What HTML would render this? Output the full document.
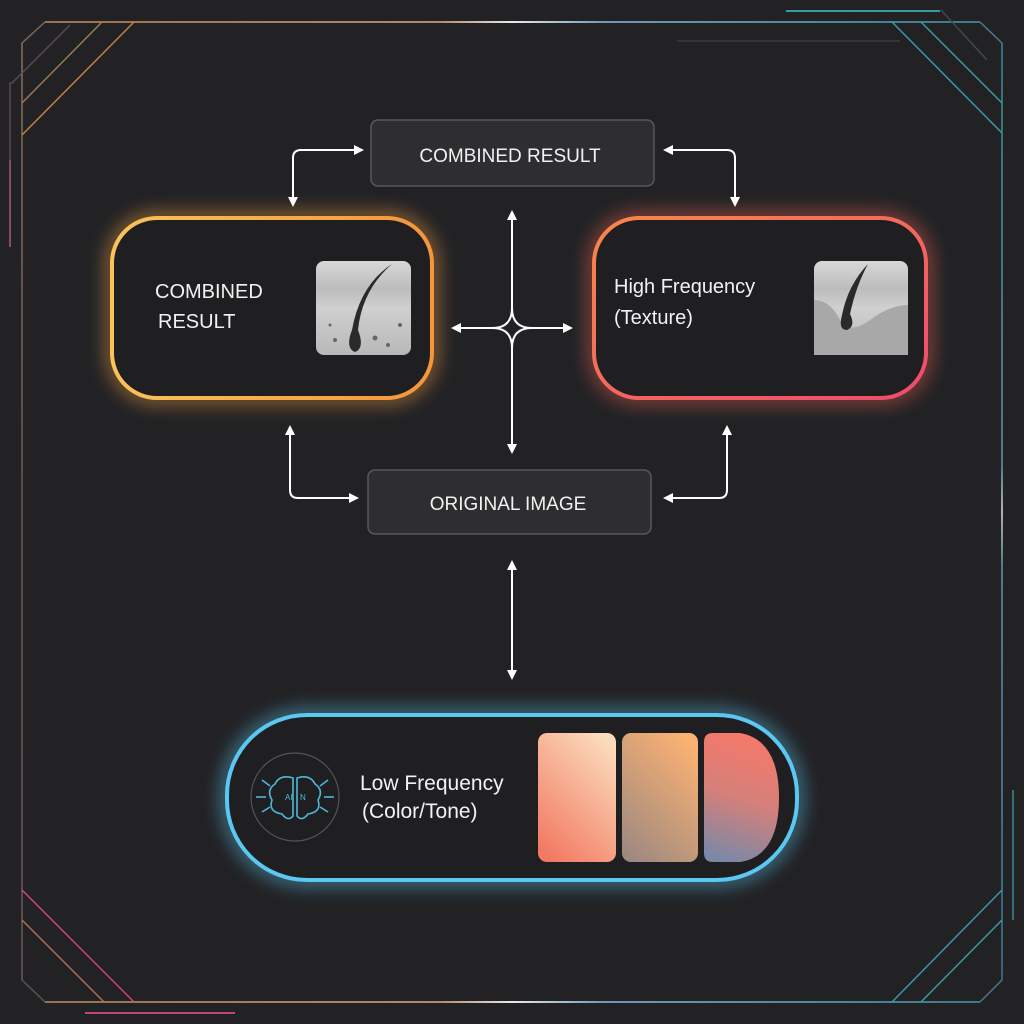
<!DOCTYPE html>
<html><head><meta charset="utf-8"><style>
html,body{margin:0;padding:0;background:#222225;}
svg{display:block}
text{font-family:"Liberation Sans",sans-serif;fill:#f2f2f2}
</style></head><body>
<svg width="1024" height="1024" viewBox="0 0 1024 1024" xmlns="http://www.w3.org/2000/svg">
<defs>
<linearGradient id="tl" gradientUnits="userSpaceOnUse" x1="45" y1="0" x2="980" y2="0"><stop offset="0" stop-color="#9a7050"/><stop offset="0.42" stop-color="#b08a6a"/><stop offset="0.5" stop-color="#e8e8e8"/><stop offset="0.6" stop-color="#6a9ab8"/><stop offset="1" stop-color="#3a7a8a"/></linearGradient>
<linearGradient id="lv" gradientUnits="userSpaceOnUse" x1="0" y1="43" x2="0" y2="980"><stop offset="0" stop-color="#8a7058"/><stop offset="0.5" stop-color="#6a5a55"/><stop offset="1" stop-color="#6a5a60"/></linearGradient>
<linearGradient id="rv" gradientUnits="userSpaceOnUse" x1="0" y1="43" x2="0" y2="980"><stop offset="0" stop-color="#3a8a98"/><stop offset="0.45" stop-color="#5a9aa8"/><stop offset="0.5" stop-color="#e0e0e0"/><stop offset="0.56" stop-color="#5a9aa8"/><stop offset="1" stop-color="#3a7a98"/></linearGradient>
<linearGradient id="og" x1="0" x2="1"><stop offset="0" stop-color="#f9c35a"/><stop offset="1" stop-color="#f4963a"/></linearGradient>
<linearGradient id="rg" x1="0" x2="1" y1="0" y2="1"><stop offset="0" stop-color="#f8874a"/><stop offset="1" stop-color="#ee4a70"/></linearGradient>
<linearGradient id="s1" x1="0.8" y1="0" x2="0.2" y2="1"><stop offset="0" stop-color="#fcdcbc"/><stop offset="1" stop-color="#f27a62"/></linearGradient>
<linearGradient id="s2" x1="0.8" y1="0" x2="0.2" y2="1"><stop offset="0" stop-color="#fcb272"/><stop offset="1" stop-color="#a08a80"/></linearGradient>
<linearGradient id="s3" x1="0.5" y1="0" x2="0.3" y2="1"><stop offset="0" stop-color="#f6786a"/><stop offset="0.5" stop-color="#d4807a"/><stop offset="1" stop-color="#7a88a8"/></linearGradient>
<linearGradient id="img" x1="0" y1="0" x2="0" y2="1"><stop offset="0" stop-color="#d8d8d8"/><stop offset="0.3" stop-color="#bcbcbc"/><stop offset="0.5" stop-color="#d0d0d0"/><stop offset="1" stop-color="#b8b8b8"/></linearGradient>
<filter id="glow" x="-20%" y="-30%" width="140%" height="160%"><feGaussianBlur stdDeviation="9"/></filter>
<marker id="ah" viewBox="0 0 10 10" refX="8" refY="5" markerWidth="5" markerHeight="5" orient="auto-start-reverse"><path d="M0,0 L10,5 L0,10z" fill="#fff"/></marker>
</defs>
<rect width="1024" height="1024" fill="#222225"/>
<g fill="none" stroke-width="1.5">
<line x1="45" y1="22" x2="980" y2="22" stroke="url(#tl)" stroke-width="2"/>
<line x1="45" y1="1002" x2="980" y2="1002" stroke="url(#tl)" stroke-width="2"/>
<line x1="22" y1="43" x2="22" y2="980" stroke="url(#lv)"/>
<line x1="1002" y1="43" x2="1002" y2="980" stroke="url(#rv)"/>
<line x1="45" y1="22" x2="22" y2="43" stroke="#7a6a58"/>
<line x1="980" y1="22" x2="1002" y2="43" stroke="#4a7a88"/>
<line x1="22" y1="980" x2="45" y2="1002" stroke="#5a5458"/>
<line x1="1002" y1="980" x2="980" y2="1002" stroke="#4a7a88"/>
<line x1="102" y1="22" x2="22" y2="103" stroke="#9a7a5a"/>
<line x1="134" y1="22" x2="22" y2="135" stroke="#c08040"/>
<polyline points="70,25 12,83 10,83 10,247" stroke="#5a4a50"/>
<line x1="10" y1="160" x2="10" y2="247" stroke="#a05080"/>
<line x1="892" y1="22" x2="1002" y2="133" stroke="#3a9aa0"/>
<line x1="921" y1="22" x2="1002" y2="103" stroke="#3a9aa0"/>
<line x1="941" y1="10" x2="987" y2="60" stroke="#3a4a50"/>
<line x1="22" y1="920" x2="104" y2="1002" stroke="#b07050"/>
<line x1="22" y1="890" x2="134" y2="1002" stroke="#d04878"/>
<line x1="892" y1="1002" x2="1002" y2="890" stroke="#3a9aa0"/>
<line x1="921" y1="1002" x2="1002" y2="920" stroke="#3a9aa0"/>
<line x1="1013" y1="790" x2="1013" y2="920" stroke="#3a8a98"/>
<line x1="786" y1="11" x2="940" y2="11" stroke="#3a9aa0" stroke-width="2"/>
<line x1="677" y1="41" x2="900" y2="41" stroke="#3a3a3e"/>
<line x1="85" y1="1013" x2="235" y2="1013" stroke="#c04870" stroke-width="2"/>
</g>
<rect x="112" y="218" width="320" height="180" rx="45" fill="none" stroke="#f6a040" stroke-width="10" opacity="0.7" filter="url(#glow)"/>
<rect x="594" y="218" width="332" height="180" rx="45" fill="none" stroke="#f06050" stroke-width="10" opacity="0.7" filter="url(#glow)"/>
<rect x="227" y="715" width="570" height="165" rx="80" fill="none" stroke="#5ac8f0" stroke-width="10" opacity="0.7" filter="url(#glow)"/>
<rect x="371" y="120" width="283" height="66" rx="7" fill="#2e2e31" stroke="#58585c" stroke-width="1.5"/>
<text x="510" y="162" font-size="19" text-anchor="middle">COMBINED RESULT</text>
<rect x="368" y="470" width="283" height="64" rx="7" fill="#2e2e31" stroke="#58585c" stroke-width="1.5"/>
<text x="508" y="510" font-size="19" text-anchor="middle">ORIGINAL IMAGE</text>
<rect x="112" y="218" width="320" height="180" rx="45" fill="#1f1f22" stroke="url(#og)" stroke-width="4"/>
<text x="155" y="298" font-size="20">COMBINED</text>
<text x="158" y="328" font-size="20">RESULT</text>
<rect x="594" y="218" width="332" height="180" rx="45" fill="#1f1f22" stroke="url(#rg)" stroke-width="4"/>
<text x="614" y="293" font-size="20">High Frequency</text>
<text x="614" y="324" font-size="20">(Texture)</text>
<g>
<rect x="316" y="261" width="95" height="94" rx="8" fill="url(#img)"/>
<path d="M392,264 Q360,285 352,330 Q345,348 355,352 Q365,348 358,330 Q362,290 392,264z" fill="#2a2a2a"/>
<g fill="#666"><circle cx="335" cy="340" r="2"/><circle cx="375" cy="338" r="2.5"/><circle cx="388" cy="345" r="2"/><circle cx="330" cy="325" r="1.5"/><circle cx="400" cy="325" r="2"/></g>
</g>
<g>
<rect x="814" y="261" width="94" height="94" rx="8" fill="url(#img)"/>
<path d="M814,300 Q830,300 840,320 Q850,335 870,320 Q890,305 908,305 L908,355 L814,355z" fill="#a8a8a8"/>
<path d="M868,264 Q848,285 842,315 Q838,330 847,330 Q856,326 850,314 Q856,286 868,264z" fill="#2a2a2a"/>
</g>
<rect x="227" y="715" width="570" height="165" rx="80" fill="#1f1f22" stroke="#5ac8f0" stroke-width="4"/>
<circle cx="295" cy="797" r="44" fill="none" stroke="#555" stroke-width="1.2"/>
<g fill="none" stroke="#4fb8d8" stroke-width="1.6">
<path d="M293,778 Q280,774 275,784 Q266,790 272,800 Q268,812 282,814 Q288,822 293,816z"/>
<path d="M297,778 Q310,774 315,784 Q324,790 318,800 Q322,812 308,814 Q302,822 297,816z"/>
<line x1="256" y1="797" x2="266" y2="797"/><line x1="324" y1="797" x2="334" y2="797"/>
<line x1="262" y1="780" x2="270" y2="786"/><line x1="328" y1="780" x2="320" y2="786"/>
<line x1="262" y1="812" x2="270" y2="807"/><line x1="328" y1="812" x2="320" y2="807"/>
</g>
<text x="285" y="800" font-size="8" style="fill:#4fb8d8">AI</text>
<text x="300" y="800" font-size="8" style="fill:#4fb8d8">N</text>
<text x="360" y="790" font-size="21">Low Frequency</text>
<text x="362" y="818" font-size="21">(Color/Tone)</text>
<rect x="538" y="733" width="78" height="129" rx="9" fill="url(#s1)"/>
<rect x="622" y="733" width="76" height="129" rx="9" fill="url(#s2)"/>
<path d="M713,733 L740,733 Q779,740 779,798 Q779,856 740,862 L713,862 Q704,862 704,853 L704,742 Q704,733 713,733z" fill="url(#s3)"/>
<g fill="none" stroke="#fff" stroke-width="2" marker-start="url(#ah)" marker-end="url(#ah)">
<path d="M293,205 L293,158 Q293,150 301,150 L362,150"/>
<path d="M665,150 L727,150 Q735,150 735,158 L735,205"/>
<path d="M290,427 L290,490 Q290,498 298,498 L357,498"/>
<path d="M665,498 L719,498 Q727,498 727,490 L727,427"/>
<path d="M512,212 L512,452"/>
<path d="M512,562 L512,678"/>
<path d="M453,328 L571,328"/>
</g>
<path d="M512,308 Q512,328 492,328 Q512,328 512,348 Q512,328 532,328 Q512,328 512,308z" fill="#222225" stroke="#fff" stroke-width="2"/>
</svg>
</body></html>
